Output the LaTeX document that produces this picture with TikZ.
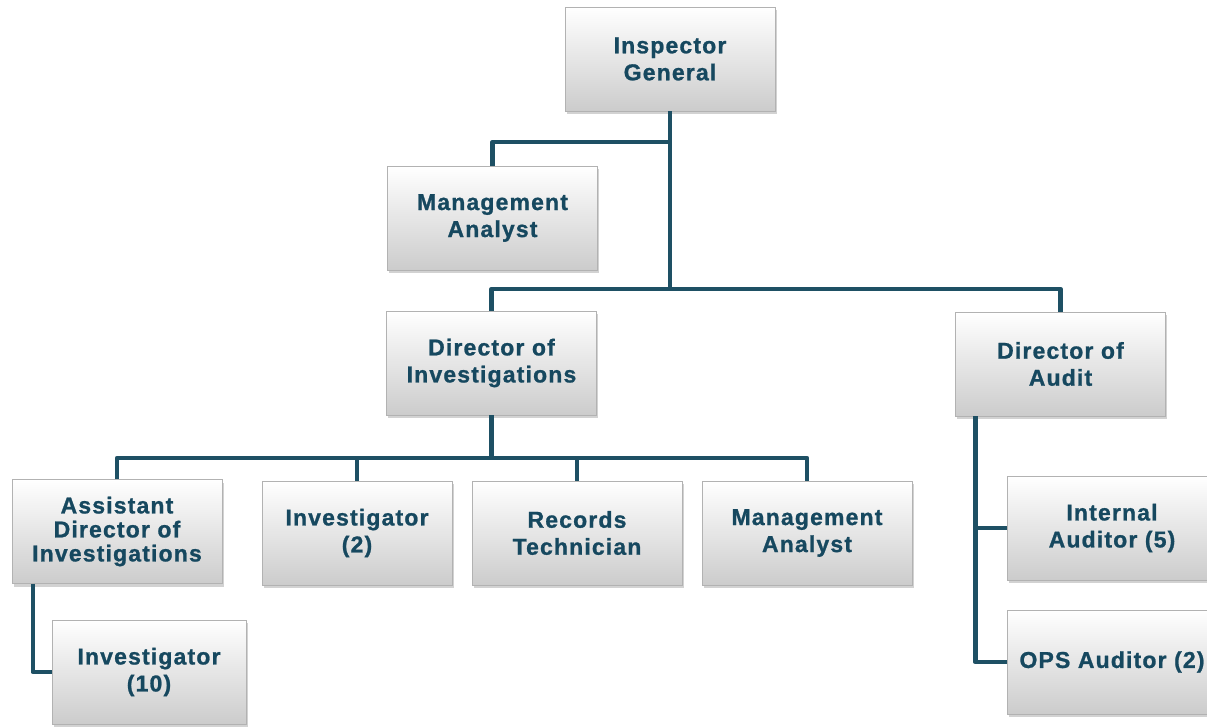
\documentclass[tikz,border=0pt]{standalone}
\usepackage{fontspec}
\setmainfont{Liberation Sans}
\newfontfamily\boxfont{Liberation Sans}[LetterSpace=5, FakeBold=1]
\usetikzlibrary{shadows}
\definecolor{orgtext}{RGB}{22,72,95}
\definecolor{orgline}{RGB}{30,80,100}
\tikzset{
  orgbox/.style={draw=black!30, line width=0.5pt,
    top color=white, middle color=white!97!black, bottom color=black!20,
    drop shadow={shadow xshift=1.5pt, shadow yshift=-3pt, opacity=0.35},
    minimum width=#1, minimum height=104pt, inner sep=0pt, align=center,
    text=orgtext, font=\boxfont\bfseries\fontsize{23}{27}\selectfont},
  orgbox/.default=210pt,
  conn/.style={draw=orgline, line width=4.5pt, line join=round}
}
\begin{document}
\begin{tikzpicture}[x=1pt,y=-1pt]
\path[use as bounding box, clip] (0,0) rectangle (1207,726);
\fill[white] (0,0) rectangle (1207,726);

% boxes
\node[orgbox] (ig)   at (670,59)    {Inspector\\General};
\node[orgbox] (ma1)  at (492.5,218) {Management\\Analyst};
\node[orgbox] (doi)  at (491.5,363) {Director of\\Investigations};
\node[orgbox] (doa)  at (1060.5,364){Director of\\Audit};
\node[orgbox, font=\boxfont\bfseries\fontsize{23}{24}\selectfont]
              (adi)  at (117,531.5) {Assistant\\Director of\\Investigations};
\node[orgbox=190pt] (inv2) at (357,533) {Investigator\\(2)};
\node[orgbox] (rt)   at (577,533)   {Records\\Technician};
\node[orgbox] (ma2)  at (807,533)   {Management\\Analyst};
\node[orgbox=194pt] (inv10) at (149,672) {Investigator\\(10)};
\node[orgbox] (ia)   at (1112,528)  {Internal\\Auditor (5)};
\node[orgbox] (ops)  at (1112,662)  {OPS Auditor (2)};

% junction points
\coordinate (t1) at (670,142);
\coordinate (hb) at (670,289);
\coordinate (t2) at (491.5,458);
\coordinate (a0) at ([xshift=20pt]doa.south west);
\coordinate (b0) at ([xshift=21pt]adi.south west);

% connectors
\draw[conn] (ig.south) -- (hb);
\draw[conn] (ma1.north) |- (t1);
\draw[conn] (doi.north) |- (hb) -| (doa.north);
\draw[conn] (doi.south) -- (t2);
\draw[conn] (adi.north) |- (t2) -| (ma2.north);
\draw[conn] (inv2.north) -- (inv2.north |- t2);
\draw[conn] (rt.north) -- (rt.north |- t2);
\draw[conn] (a0) |- (ops.west);
\draw[conn] (ia.west) -- (ia.west -| a0);
\draw[conn] (b0) |- (inv10.west);
\end{tikzpicture}
\end{document}
